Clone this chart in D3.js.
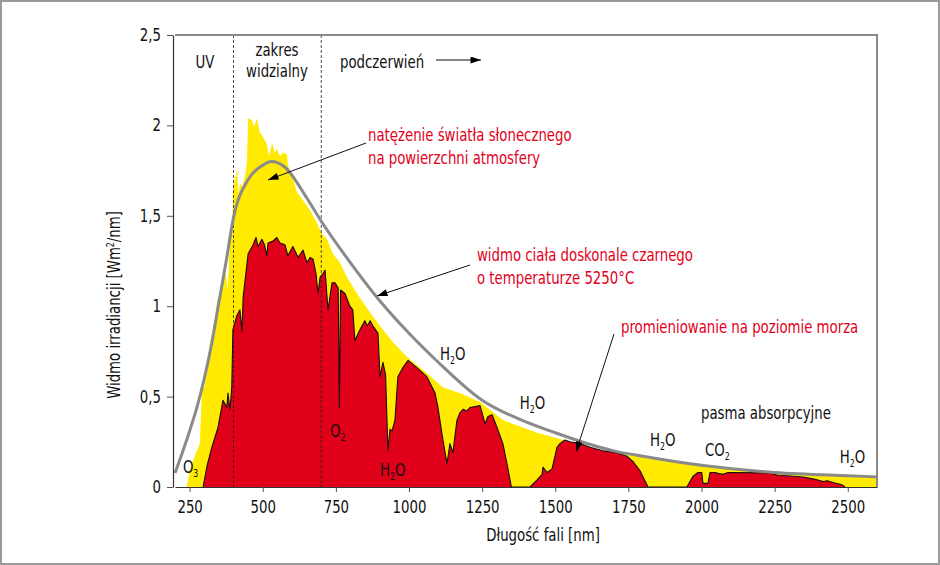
<!DOCTYPE html>
<html>
<head>
<meta charset="utf-8">
<script src="https://cdn.jsdelivr.net/npm/d3@7"></script>
<style>
  body { margin: 0; background: #fff; }
  svg text { font-family: "Liberation Sans Narrow", "Arial Narrow", "DejaVu Sans Condensed", sans-serif; font-stretch: condensed; }
</style>
</head>
<body>
<svg id="chart" width="940" height="565"></svg>
<script>
// Tick labels
const waveTicks = [250, 500, 750, 1000, 1250, 1500, 1750, 2000, 2250, 2500];
const irrTicks = [0, 0.5, 1, 1.5, 2, 2.5];

// Black body curve (5250 C)
const bbWave = [200, 225, 250, 275, 300, 325, 350, 375, 400, 450, 500, 530, 575, 650, 700, 800, 900, 1000, 1100, 1250, 1400, 1500, 1600, 1700, 1800, 2000, 2250, 2500, 2600];
const bbIrr = [0.077, 0.19, 0.31, 0.44, 0.60, 0.79, 1.02, 1.25, 1.49, 1.70, 1.78, 1.80, 1.77, 1.60, 1.47, 1.24, 1.03, 0.85, 0.69, 0.48, 0.36, 0.30, 0.245, 0.20, 0.17, 0.12, 0.08, 0.062, 0.056];

// Sunlight at top of atmosphere (yellow)
const toaWave = [240, 252, 270, 285, 292, 300, 309, 320, 335, 347, 352, 360, 371, 381, 386, 391, 396, 398, 404, 412, 417, 422, 430, 440, 446, 450, 463, 470, 480, 490, 500, 513, 521, 532, 542, 548, 559, 570, 583, 586, 600, 617, 640, 662, 685, 703, 720, 740, 764, 788, 822, 856, 901, 945, 993, 1061, 1116, 1174, 1243, 1321, 1438, 1527, 1663, 1779, 1926, 2121, 2347, 2600];
const toaIrr = [0, 0.10, 0.18, 0.24, 0.54, 0.55, 0.65, 0.80, 0.92, 1.05, 0.98, 1.12, 1.20, 1.09, 1.32, 1.42, 1.40, 1.63, 1.70, 1.76, 1.62, 1.68, 1.66, 1.72, 1.80, 2.04, 2.03, 1.99, 2.04, 1.96, 1.94, 1.90, 1.83, 1.90, 1.85, 1.87, 1.83, 1.85, 1.84, 1.78, 1.72, 1.63, 1.58, 1.53, 1.46, 1.40, 1.37, 1.29, 1.24, 1.16, 1.07, 0.99, 0.89, 0.80, 0.72, 0.63, 0.55, 0.52, 0.47, 0.37, 0.30, 0.26, 0.20, 0.17, 0.14, 0.094, 0.077, 0.06];

// Radiation at sea level (red)
const seaWave = [296, 310, 326, 347, 364, 377, 381, 388, 394, 398, 412, 422, 429, 433, 450, 467, 477, 484, 497, 506, 514, 518, 535, 548, 559, 576, 586, 603, 621, 638, 651, 662, 672, 682, 689, 696, 706, 713, 723, 737, 747, 758, 762, 766, 781, 798, 808, 815, 832, 849, 858, 867, 877, 894, 901, 911, 920, 928, 935, 942, 952, 962, 979, 997, 1027, 1061, 1089, 1099, 1116, 1130, 1140, 1150, 1164, 1174, 1185, 1197, 1209, 1243, 1260, 1270, 1284, 1301, 1321, 1335, 1350, 1414, 1438, 1455, 1458, 1472, 1489, 1499, 1506, 1516, 1533, 1550, 1585, 1619, 1663, 1711, 1745, 1766, 1790, 1817, 1950, 1971, 1988, 2001, 2005, 2022, 2029, 2046, 2060, 2073, 2091, 2234, 2258, 2347, 2380, 2395, 2415, 2430, 2450, 2480, 2491];
const seaIrr = [0, 0.12, 0.22, 0.33, 0.48, 0.44, 0.52, 0.43, 0.55, 0.87, 0.95, 0.98, 0.86, 1.05, 1.29, 1.34, 1.38, 1.33, 1.37, 1.34, 1.28, 1.35, 1.36, 1.38, 1.35, 1.34, 1.28, 1.33, 1.27, 1.31, 1.24, 1.27, 1.26, 1.18, 1.07, 1.16, 1.18, 1.20, 0.98, 1.13, 1.13, 1.10, 0.44, 1.09, 1.07, 1.00, 0.98, 0.81, 0.87, 0.92, 0.89, 0.92, 0.89, 0.85, 0.61, 0.69, 0.62, 0.20, 0.32, 0.31, 0.37, 0.61, 0.66, 0.70, 0.66, 0.61, 0.52, 0.44, 0.26, 0.13, 0.24, 0.19, 0.37, 0.41, 0.43, 0.42, 0.44, 0.45, 0.35, 0.39, 0.40, 0.33, 0.24, 0.13, 0, 0, 0.04, 0.07, 0.11, 0.08, 0.10, 0.17, 0.22, 0.24, 0.26, 0.25, 0.24, 0.22, 0.20, 0.19, 0.17, 0.14, 0.09, 0, 0, 0.06, 0.08, 0.08, 0.02, 0.02, 0.08, 0.08, 0.075, 0.07, 0.08, 0.078, 0.066, 0.055, 0.045, 0.04, 0.03, 0.035, 0.025, 0.012, 0];

// Region boundaries (nm)
const bandEdges = [400, 700];

// Absorption labels: [main, subscript, tail, wavelength, irradiance]
const gasLabels = [
  ["O", "3", "", 227, 0.077],
  ["O", "2", "", 730, 0.277],
  ["H", "2", "O", 901, 0.061],
  ["H", "2", "O", 1106, 0.70],
  ["H", "2", "O", 1379, 0.43],
  ["H", "2", "O", 1824, 0.227],
  ["CO", "2", "", 2012, 0.17],
  ["H", "2", "O", 2473, 0.133]
];

const svg = d3.select('#chart');
const width = +svg.attr('width');
const height = +svg.attr('height');
const squeeze = 0.87; // narrow the font horizontally

const x = d3.scaleLinear().domain([200, 2600]).range([175, 877]);
const y = d3.scaleLinear().domain([0, 2.5]).range([487, 35]);

const zip = (xs, ys) => xs.map((w, i) => ({ w: w, v: ys[i] }));
const bb = zip(bbWave, bbIrr);
const toa = zip(toaWave, toaIrr);
const sea = zip(seaWave, seaIrr);

// squeeze a text around its own anchor point
const condense = sel => sel.each(function () {
  const t = d3.select(this);
  const tx = +t.attr('x') || 0;
  const ty = +t.attr('y') || 0;
  t.attr('transform', `translate(${tx},${ty}) scale(${squeeze},1) translate(${-tx},${-ty})`);
});

// outer frame
svg.append('rect')
  .attr('x', 1).attr('y', 1)
  .attr('width', width - 2).attr('height', height - 2)
  .attr('fill', 'none').attr('stroke', '#9a9a9a').attr('stroke-width', 2);

// arrow markers
const defs = svg.append('defs');
defs.append('marker')
  .attr('id', 'head')
  .attr('viewBox', '0 0 12 8')
  .attr('refX', 12).attr('refY', 4)
  .attr('markerWidth', 13).attr('markerHeight', 7)
  .attr('markerUnits', 'userSpaceOnUse')
  .attr('orient', 'auto')
  .append('path').attr('d', 'M0,0 L12,4 L0,8 Z').attr('fill', '#000');

const areaGen = d3.area().x(d => x(d.w)).y0(y(0)).y1(d => y(d.v));
const lineGen = d3.line().x(d => x(d.w)).y(d => y(d.v));

// yellow: top of atmosphere
svg.append('path').datum(toa)
  .attr('d', areaGen)
  .attr('fill', '#ffea00');

// red: sea level
svg.append('path').datum(sea)
  .attr('d', areaGen)
  .attr('fill', '#e1001a');
svg.append('path').datum(sea)
  .attr('d', lineGen)
  .attr('fill', 'none')
  .attr('stroke', '#111')
  .attr('stroke-width', 1.1)
  .attr('stroke-linejoin', 'round');

// visible / UV boundaries
svg.selectAll('.edge').data(bandEdges)
  .enter().append('line')
  .attr('class', 'edge')
  .attr('x1', d => x(d)).attr('x2', d => x(d))
  .attr('y1', y(2.5)).attr('y2', y(0))
  .attr('stroke', '#222')
  .attr('stroke-width', 0.8)
  .attr('stroke-dasharray', '3,2');

// black body curve
svg.append('path').datum(bb)
  .attr('d', d3.line().x(d => x(d.w)).y(d => y(d.v)).curve(d3.curveMonotoneX))
  .attr('fill', 'none')
  .attr('stroke', '#8a8a8a')
  .attr('stroke-width', 3);

// frame top and right
svg.append('path')
  .attr('d', `M${x(200)},${y(2.5)} H${x(2600)} V${y(0)}`)
  .attr('fill', 'none')
  .attr('stroke', '#8a8a8a')
  .attr('stroke-width', 2);

// axes
const xAxis = svg.append('g')
  .attr('transform', `translate(0, ${y(0)})`)
  .call(d3.axisBottom(x).tickValues(waveTicks).tickSize(5).tickSizeOuter(0).tickFormat(d3.format('d')));
const yAxis = svg.append('g')
  .attr('transform', `translate(${x(200) - 2}, 0)`)
  .call(d3.axisLeft(y).tickValues(irrTicks).tickSize(6).tickSizeOuter(0)
    .tickFormat(d => String(d).replace('.', ',')));

[xAxis, yAxis].forEach(g => {
  g.select('.domain').attr('stroke', '#333').attr('stroke-width', 1.2);
  g.selectAll('.tick line').attr('stroke', '#555');
  g.selectAll('.tick text').attr('fill', '#111').style('font-size', '17px');
});
xAxis.selectAll('.tick text').attr('dy', '1.05em');
yAxis.selectAll('.tick text').attr('x', -12);
condense(xAxis.selectAll('.tick text'));
condense(yAxis.selectAll('.tick text'));

// axis titles
const yTitle = svg.append('text')
  .attr('transform', `translate(120, 305) rotate(-90) scale(${squeeze},1)`)
  .attr('text-anchor', 'middle')
  .style('font-size', '17px')
  .attr('fill', '#111');
yTitle.append('tspan').text('Widmo irradiancji [Wm');
yTitle.append('tspan').text('2').attr('dy', -6).style('font-size', '10px');
yTitle.append('tspan').text('/nm]').attr('dy', 6);

const labels = [];
const addText = (tx, ty, s, colour, anchor) => {
  const t = svg.append('text')
    .attr('x', tx).attr('y', ty)
    .attr('text-anchor', anchor || 'start')
    .style('font-size', '17px')
    .attr('fill', colour)
    .text(s);
  labels.push(t);
  return t;
};

addText(543, 541, 'Długość fali [nm]', '#111', 'middle');

// region labels
addText(205, 68, 'UV', '#111', 'middle');
addText(277, 56, 'zakres', '#111', 'middle');
addText(277, 77, 'widzialny', '#111', 'middle');
addText(340, 68, 'podczerwień', '#111');
addText(701, 419, 'pasma absorpcyjne', '#111');

// red annotations
const red = '#e2001a';
addText(368, 141, 'natężenie światła słonecznego', red);
addText(368, 164, 'na powierzchni atmosfery', red);
addText(477, 261, 'widmo ciała doskonale czarnego', red);
addText(477, 284, 'o temperaturze 5250°C', red);
addText(621, 333, 'promieniowanie na poziomie morza', red);

// gas labels with subscripts
gasLabels.forEach(d => {
  const t = addText(x(d[3]), y(d[4]), '', '#111');
  t.append('tspan').text(d[0]);
  t.append('tspan').text(d[1]).attr('dy', 4).style('font-size', '10px');
  if (d[2]) t.append('tspan').text(d[2]).attr('dy', -4);
});

labels.forEach(condense);

// arrows
const arrows = [
  [436, 60, 481, 60],
  [366, 143, 268, 180],
  [470, 265, 377, 296],
  [614, 334, 576, 452]
];
svg.selectAll('.arrow').data(arrows)
  .enter().append('line')
  .attr('class', 'arrow')
  .attr('x1', d => d[0]).attr('y1', d => d[1])
  .attr('x2', d => d[2]).attr('y2', d => d[3])
  .attr('stroke', '#111')
  .attr('stroke-width', 1)
  .attr('marker-end', 'url(#head)');
</script>
</body>
</html>
